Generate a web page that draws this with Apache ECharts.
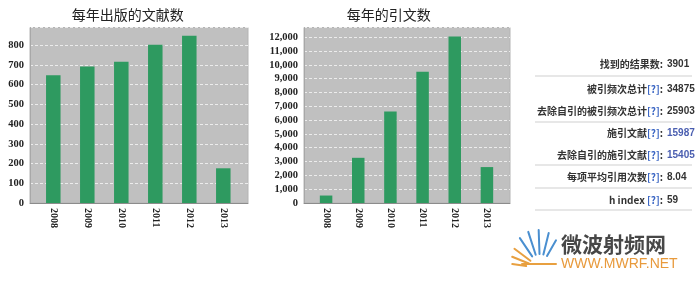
<!DOCTYPE html>
<html>
<head>
<meta charset="utf-8">
<script src="https://cdn.jsdelivr.net/npm/echarts@6/dist/echarts.min.js"></script>
<style>
html,body{margin:0;padding:0;background:#fff;}
#c{width:700px;height:284px;}
</style>
</head>
<body>
<div id="c"></div>
<script>
// ---------- data ----------
const years = ['2008', '2009', '2010', '2011', '2012', '2013'];
const pubCounts = [648, 692, 716, 803, 848, 176];
const citeCounts = [540, 3270, 6630, 9500, 12050, 2600];
const titleLeft = '每年出版的文献数';
const titleRight = '每年的引文数';
const statLabels = ['找到的结果数', '被引频次总计', '去除自引的被引频次总计', '施引文献', '去除自引的施引文献', '每项平均引用次数', 'h index '];
const statHelp = [false, true, true, true, true, true, true];
const statValues = ['3901', '34875', '25903', '15987', '15405', '8.04', '59'];
const statBlue = [false, false, false, true, true, false, false];
const logoName = '微波射频网';
const logoUrl = 'WWW.MWRF.NET';

// ---------- layout / style ----------
const green = '#2e9a60';
const bg = '#c0c0c0';
const axisFont = { fontFamily: 'Liberation Serif', fontWeight: 'bold', fontSize: 10.5, color: '#222' };
const fmtThousands = v => String(v).replace(/\B(?=(\d{3})+(?!\d))/g, ',');

const chart = echarts.init(document.getElementById('c'), null, { renderer: 'canvas' });

function outerGrid(left, width) {
  return { left: left, top: 27.5, width: width, height: 175.5, show: true, backgroundColor: bg, borderColor: '#b4b4b4', borderWidth: 1, containLabel: false };
}
function innerGrid(left, width) {
  return { left: left, top: 27.5, width: width, height: 175.5, show: false, containLabel: false };
}

const grids = [outerGrid(30, 218), innerGrid(36.3, 204), outerGrid(304, 206), innerGrid(310, 193)];

function frameX(gi) {
  return { type: 'value', gridIndex: gi, min: 0, max: 1, axisLabel: { show: false }, axisTick: { show: false }, splitLine: { show: false },
    axisLine: { show: true, lineStyle: { color: '#8c8c8c', width: 1 } } };
}
function catX(gi) {
  return { type: 'category', gridIndex: gi, data: years, boundaryGap: true, axisLine: { show: false }, axisTick: { show: false },
    axisLabel: Object.assign({ rotate: -90, margin: 5, interval: 0 }, axisFont, { fontSize: 10 }) };
}
function frameY(gi, max, interval, fmt) {
  return { type: 'value', gridIndex: gi, min: 0, max: max, interval: interval,
    axisLine: { show: true, lineStyle: { color: '#a8a8a8' } }, axisTick: { show: false },
    axisLabel: Object.assign({ margin: 6, showMaxLabel: false, formatter: fmt }, axisFont),
    splitLine: { show: true, lineStyle: { color: '#ececec', type: [3, 2], width: 1 } } };
}
function hiddenY(gi, max) {
  return { type: 'value', gridIndex: gi, min: 0, max: max, show: false, splitLine: { show: false } };
}

// stats panel graphics
const rowY = [64, 89, 111, 133, 155, 177, 200];
const sepY = [76, 122, 165, 188, 210];
const panelGraphics = [];
statLabels.forEach((lab, i) => {
  const rich = statHelp[i] ? '{a|' + lab + '}{h|[?]}{a|:}' : '{a|' + lab + ':}';
  panelGraphics.push({
    type: 'text', x: 663, y: rowY[i],
    style: {
      text: rich, align: 'right', verticalAlign: 'middle',
      rich: {
        a: { fontFamily: 'Noto Sans CJK SC', fontWeight: 'bold', fontSize: 10, fill: '#333' },
        h: { fontFamily: 'Noto Sans CJK SC', fontWeight: 'bold', fontSize: 10, fill: '#3b66c4' }
      }
    }
  });
  panelGraphics.push({
    type: 'text', x: 667, y: rowY[i],
    style: { text: statValues[i], align: 'left', verticalAlign: 'middle', fontFamily: 'Arial, Liberation Sans', fontWeight: 'bold', fontSize: 10,
      fill: statBlue[i] ? '#4a5eb0' : '#333' }
  });
});
sepY.forEach(y => {
  panelGraphics.push({ type: 'line', shape: { x1: 535, y1: y, x2: 692, y2: y }, style: { stroke: '#cfcfcf', lineWidth: 1 } });
});

// logo (decorative fan)
const fanCx = 540, fanCy = 268;
const fanRays = [
  [172, 14, 28, '#e8a040'], [158, 12, 30, '#e8a040'], [143, 12, 32, '#e8a040'],
  [124, 14, 36, '#4a8fd0'], [108, 14, 38, '#4a8fd0'], [92, 14, 38, '#4a8fd0'],
  [76, 14, 36, '#4a8fd0'], [60, 14, 32, '#4a8fd0']
];
const logoGraphics = fanRays.map(r => {
  const a = r[0] * Math.PI / 180;
  return { type: 'line', shape: { x1: fanCx + r[1] * Math.cos(a), y1: fanCy - r[1] * Math.sin(a), x2: fanCx + r[2] * Math.cos(a), y2: fanCy - r[2] * Math.sin(a) },
    style: { stroke: r[3], lineWidth: 2, lineCap: 'round' } };
});
logoGraphics.push({ type: 'line', shape: { x1: 522, y1: 264, x2: 556, y2: 264 }, style: { stroke: '#e8a040', lineWidth: 2, lineCap: 'round' } });
logoGraphics.push({ type: 'text', x: 561, y: 244, style: { text: logoName, fontFamily: 'Noto Sans CJK SC', fontWeight: 'bold', fontSize: 21, fill: '#474747', verticalAlign: 'middle' } });
logoGraphics.push({ type: 'text', x: 561, y: 264, style: { text: logoUrl, fontFamily: 'Liberation Sans', fontSize: 14, fill: '#e89a3c', verticalAlign: 'middle' } });

const option = {
  animation: false,
  backgroundColor: '#fff',
  grid: grids,
  xAxis: [frameX(0), catX(1), frameX(2), catX(3)],
  yAxis: [frameY(0, 890, 100, v => String(v)), hiddenY(1, 890), frameY(2, 12700, 1000, v => fmtThousands(v)), hiddenY(3, 12700)],
  series: [
    { type: 'bar', xAxisIndex: 1, yAxisIndex: 1, data: pubCounts, barWidth: 14.5, itemStyle: { color: green } },
    { type: 'bar', xAxisIndex: 3, yAxisIndex: 3, data: citeCounts, barWidth: 12.5, itemStyle: { color: green } }
  ],
  graphic: [
    { type: 'text', x: 127.7, y: 15, style: { text: titleLeft, align: 'center', verticalAlign: 'middle', fontFamily: 'Noto Sans CJK SC', fontSize: 14, fill: '#222' } },
    { type: 'text', x: 388.7, y: 15, style: { text: titleRight, align: 'center', verticalAlign: 'middle', fontFamily: 'Noto Sans CJK SC', fontSize: 14, fill: '#222' } }
  ].concat(panelGraphics).concat(logoGraphics)
};
chart.setOption(option);
</script>
</body>
</html>
